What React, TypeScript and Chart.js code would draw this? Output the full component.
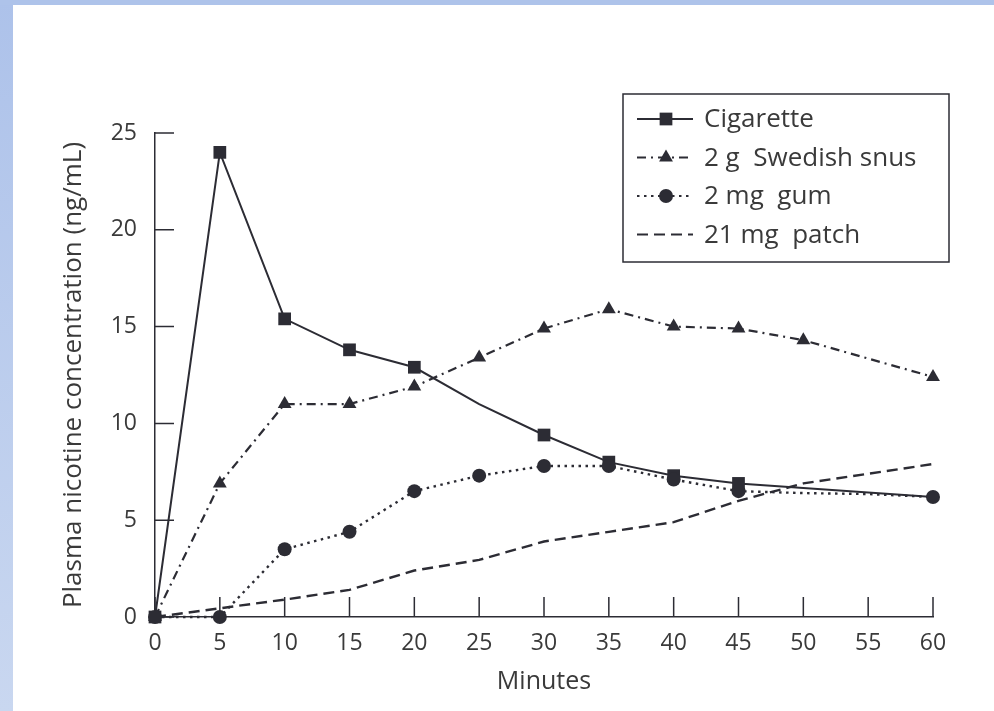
import React, { useEffect, useRef } from "react";
import { Chart, registerables } from "chart.js";

Chart.register(...registerables);

// ---- data ----
const cigMinutes = [0, 5, 10, 15, 20, 25, 30, 35, 40, 45, 60];
const cigValues = [0, 24, 15.4, 13.8, 12.9, 11.0, 9.4, 8.0, 7.3, 6.9, 6.2];
const cigUnmarked = [25, 60];

const snusMinutes = [0, 5, 10, 15, 20, 25, 30, 35, 40, 45, 50, 60];
const snusValues = [0, 6.9, 11.0, 11.0, 11.9, 13.4, 14.9, 15.9, 15.0, 14.9, 14.3, 12.4];

const gumMinutes = [0, 5, 10, 15, 20, 25, 30, 35, 40, 45, 50, 55, 60];
const gumValues = [0, 0, 3.5, 4.4, 6.5, 7.3, 7.8, 7.8, 7.1, 6.5, 6.4, 6.35, 6.2];
const gumUnmarked = [50, 55];

const patchMinutes = [0, 5, 10, 15, 20, 25, 30, 35, 40, 45, 50, 55, 60];
const patchValues = [0, 0.45, 0.9, 1.4, 2.4, 2.95, 3.9, 4.4, 4.9, 6.0, 6.9, 7.4, 7.9];

const seriesLabels = ["Cigarette", "2 g  Swedish snus", "2 mg  gum", "21 mg  patch"];
const xTitle = "Minutes";
const yTitle = "Plasma nicotine concentration (ng/mL)";

const INK = "#2c2c34";
const TEXT = "#3a3a3a";
const FONT = "'Open Sans', 'DejaVu Sans', sans-serif";

const toPoints = (xs: number[], ys: number[]) => xs.map((x, i) => ({ x, y: ys[i] }));

const inwardTicks = {
  id: "inwardTicks",
  beforeDatasetsDraw(chart: any) {
    const { ctx, chartArea } = chart;
    const x = chart.scales.x;
    const y = chart.scales.y;
    ctx.save();
    ctx.strokeStyle = INK;
    ctx.lineWidth = 1.5;
    ctx.beginPath();
    x.ticks.forEach((t: any) => {
      const px = x.getPixelForValue(t.value);
      ctx.moveTo(px, chartArea.bottom);
      ctx.lineTo(px, chartArea.bottom - 20);
    });
    y.ticks.forEach((t: any) => {
      const py = y.getPixelForValue(t.value);
      ctx.moveTo(chartArea.left, py);
      ctx.lineTo(chartArea.left + 19, py);
    });
    ctx.stroke();
    ctx.restore();
  },
};

function drawMarker(ctx: CanvasRenderingContext2D, style: string, cx: number, cy: number, r: number) {
  ctx.beginPath();
  if (style === "rect") {
    const s = Math.SQRT1_2 * r;
    ctx.rect(cx - s, cy - s, 2 * s, 2 * s);
  } else if (style === "triangle") {
    ctx.moveTo(cx, cy - r);
    ctx.lineTo(cx + r * 0.866, cy + r * 0.5);
    ctx.lineTo(cx - r * 0.866, cy + r * 0.5);
    ctx.closePath();
  } else if (style === "circle") {
    ctx.arc(cx, cy, r, 0, Math.PI * 2);
  }
  ctx.fill();
}

const boxLegend = {
  id: "boxLegend",
  afterDraw(chart: any) {
    const { ctx } = chart;
    const o = chart.options.plugins.boxLegend;
    ctx.save();
    ctx.strokeStyle = INK;
    ctx.lineWidth = 1.5;
    ctx.strokeRect(o.left, o.top, o.width, o.height);
    chart.data.datasets.forEach((ds: any, i: number) => {
      const cy = o.top + o.firstRow + i * o.rowGap;
      ctx.strokeStyle = INK;
      ctx.lineWidth = 2;
      ctx.setLineDash(ds.borderDash || []);
      ctx.beginPath();
      ctx.moveTo(o.left + 14, cy);
      ctx.lineTo(o.left + 70, cy);
      ctx.stroke();
      ctx.setLineDash([]);
      if (ds.pointStyle && ds.legendMarker) {
        ctx.fillStyle = INK;
        drawMarker(ctx, ds.pointStyle, o.left + 43, cy, ds.legendMarker);
      }
      ctx.fillStyle = TEXT;
      ctx.font = `26px ${FONT}`;
      ctx.textBaseline = "middle";
      ctx.textAlign = "left";
      ctx.fillText(ds.label, o.left + 81, cy + 1);
    });
    ctx.restore();
  },
};

export default function App() {
  const ref = useRef<HTMLCanvasElement | null>(null);

  useEffect(() => {
    if (!ref.current) return;
    const chart = new Chart(ref.current, {
      type: "line",
      data: {
        datasets: [
          {
            label: seriesLabels[0],
            data: toPoints(cigMinutes, cigValues),
            borderColor: INK,
            backgroundColor: INK,
            borderWidth: 2,
            pointStyle: "rect",
            pointRadius: (c: any) => (cigUnmarked.includes(cigMinutes[c.dataIndex]) ? 0 : 9),
            pointBorderWidth: 0,
            tension: 0,
            clip: false,
            legendMarker: 9,
            order: 1,
          } as any,
          {
            label: seriesLabels[1],
            data: toPoints(snusMinutes, snusValues),
            borderColor: INK,
            backgroundColor: INK,
            borderWidth: 2.2,
            borderDash: [9, 5, 2, 5],
            pointStyle: "triangle",
            pointRadius: 8,
            pointBorderWidth: 0,
            tension: 0,
            clip: false,
            legendMarker: 8,
            order: 2,
          } as any,
          {
            label: seriesLabels[2],
            data: toPoints(gumMinutes, gumValues),
            borderColor: INK,
            backgroundColor: INK,
            borderWidth: 2.4,
            borderDash: [2.5, 4.5],
            pointStyle: "circle",
            pointRadius: (c: any) => (gumUnmarked.includes(gumMinutes[c.dataIndex]) ? 0 : 7),
            pointBorderWidth: 0,
            tension: 0,
            clip: false,
            legendMarker: 7,
            order: 0,
          } as any,
          {
            label: seriesLabels[3],
            data: toPoints(patchMinutes, patchValues),
            borderColor: INK,
            backgroundColor: INK,
            borderWidth: 2.4,
            borderDash: [11, 6],
            pointRadius: 0,
            tension: 0,
            clip: false,
            order: 3,
          } as any,
        ],
      },
      options: {
        responsive: false,
        animation: false,
        events: [],
        layout: { padding: { left: 58, top: 133, right: 61, bottom: 0 } },
        plugins: {
          legend: { display: false },
          tooltip: { enabled: false },
          boxLegend: { left: 623, top: 94, width: 326, height: 168, firstRow: 25, rowGap: 38.5 },
        } as any,
        scales: {
          x: {
            type: "linear",
            min: 0,
            max: 60,
            ticks: { stepSize: 5, color: TEXT, font: { size: 23, family: FONT }, padding: 5 },
            grid: { display: false },
            border: { display: true, color: INK, width: 1.5 },
            title: {
              display: true,
              text: xTitle,
              color: TEXT,
              font: { size: 25, family: FONT },
              padding: { top: 0, bottom: 14 },
            },
            afterFit: (s: any) => {
              s.height = 94;
            },
          },
          y: {
            type: "linear",
            min: 0,
            max: 25,
            ticks: { stepSize: 5, color: TEXT, font: { size: 23, family: FONT }, padding: 10 },
            grid: { display: false },
            border: { display: true, color: INK, width: 1.5 },
            title: {
              display: true,
              text: yTitle,
              color: TEXT,
              font: { size: 26, family: FONT },
              padding: { top: 0, bottom: 0 },
            },
            afterFit: (s: any) => {
              s.width = 97;
            },
          },
        },
      },
      plugins: [inwardTicks, boxLegend],
    });
    return () => chart.destroy();
  }, []);

  return (
    <div style={{ position: "absolute", left: 0, top: 0, width: 994, height: 711, background: "#ffffff", overflow: "hidden" }}>
      <div
        style={{
          position: "absolute",
          left: 0,
          top: 0,
          width: 13,
          height: 711,
          background: "linear-gradient(to bottom, #adc2ea, #c9d7f0)",
        }}
      />
      <div
        style={{
          position: "absolute",
          left: 0,
          top: 0,
          width: 994,
          height: 5,
          background: "#aec3ea",
        }}
      />
      <canvas ref={ref} width={994} height={711} style={{ position: "absolute", left: 0, top: 0, width: 994, height: 711 }} />
    </div>
  );
}
